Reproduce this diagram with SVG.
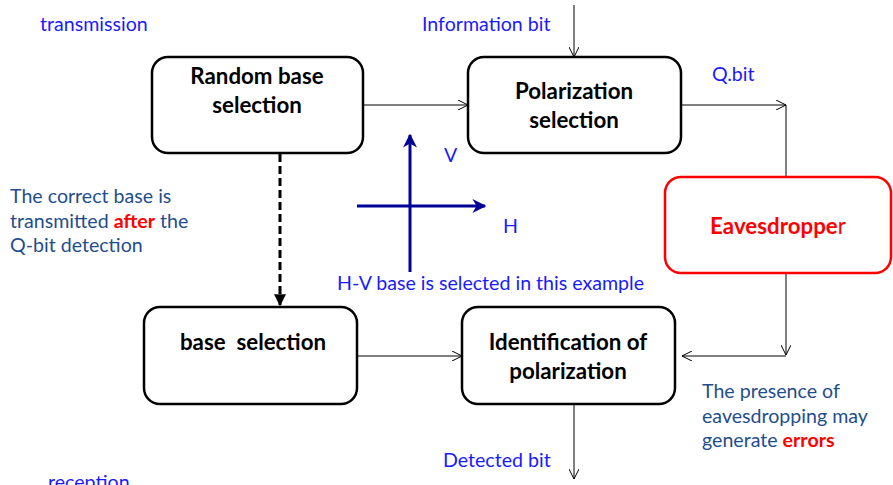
<svg xmlns="http://www.w3.org/2000/svg" width="893" height="485" viewBox="0 0 893 485">
  <style>
    .box { fill: #ffffff; stroke: #000000; stroke-width: 2.5; }
    .evil { fill: #ffffff; stroke: #ff0000; stroke-width: 2.5; }
    .title { font-family: Lato, "Liberation Sans", sans-serif; font-weight: bold; font-size: 22.3px; fill: #000000; text-anchor: middle; }
    .lbl { font-family: Lato, "Liberation Sans", sans-serif; font-size: 19.6px; fill: #1a1aff; }
    .note { font-family: Lato, "Liberation Sans", sans-serif; font-size: 19.6px; fill: #1f4e8c; }
    .hot { fill: #ff0000; font-weight: bold; }
    .wire { fill: none; stroke: #000000; stroke-width: 1; }
    .axis { fill: none; stroke: #000099; stroke-width: 3; }
  </style>
  <defs>
    <marker id="open" viewBox="0 0 10 10" refX="10" refY="5" markerWidth="10" markerHeight="10" markerUnits="userSpaceOnUse" orient="auto">
      <path d="M0,0 L10,5 L0,10" fill="none" stroke="#000000" stroke-width="1"/>
    </marker>
    <marker id="solid" viewBox="0 0 10 10" refX="9" refY="5" markerWidth="12" markerHeight="12" markerUnits="userSpaceOnUse" orient="auto">
      <path d="M0,0 L10,5 L0,10 Z" fill="#000000"/>
    </marker>
    <marker id="blue" viewBox="0 0 10 10" refX="9" refY="5" markerWidth="14" markerHeight="14" markerUnits="userSpaceOnUse" orient="auto">
      <path d="M0,0 L10,5 L0,10 L3,5 Z" fill="#000099"/>
    </marker>
  </defs>

  <!-- side labels -->
  <text class="lbl" x="40" y="31">transmission</text>
  <text class="lbl" x="48" y="489">reception</text>

  <!-- connectors -->
  <g id="connectors">
    <line class="wire" x1="574" y1="5" x2="574" y2="57" marker-end="url(#open)"/>
    <line class="wire" x1="363" y1="105" x2="468" y2="105" marker-end="url(#open)"/>
    <line class="wire" x1="681" y1="105" x2="786" y2="105" marker-end="url(#open)"/>
    <line class="wire" x1="786" y1="105" x2="786" y2="177"/>
    <line class="wire" x1="786" y1="273" x2="786" y2="355" marker-end="url(#open)"/>
    <line class="wire" x1="786" y1="356" x2="682" y2="356" marker-end="url(#open)"/>
    <line class="wire" x1="357" y1="356" x2="462" y2="356" marker-end="url(#open)"/>
    <line class="wire" x1="574" y1="404" x2="574" y2="479" marker-end="url(#open)"/>
    <line x1="280" y1="154" x2="280" y2="305" stroke="#000000" stroke-width="3" stroke-dasharray="8,4" marker-end="url(#solid)"/>
  </g>

  <g id="random-base">
    <rect class="box" x="152" y="57" width="211" height="96" rx="16"/>
    <text class="title" x="257" y="84">Random base</text>
    <text class="title" x="257" y="113">selection</text>
  </g>

  <g id="polarization-selection">
    <rect class="box" x="468" y="57" width="213" height="96" rx="16"/>
    <text class="title" x="574" y="99">Polarization</text>
    <text class="title" x="574" y="128">selection</text>
  </g>

  <g id="eavesdropper">
    <rect class="evil" x="665" y="177" width="226" height="96" rx="16"/>
    <text class="title" x="778" y="234" style="fill:#ff0000">Eavesdroppe<tspan font-weight="normal">r</tspan></text>
  </g>

  <g id="base-selection">
    <rect class="box" x="144" y="307" width="213" height="97" rx="16"/>
    <text class="title" x="253" y="350" xml:space="preserve">base  selection</text>
  </g>

  <g id="identification">
    <rect class="box" x="462" y="307" width="213" height="97" rx="16"/>
    <text class="title" x="568" y="350">Identification of</text>
    <text class="title" x="568" y="379">polarization</text>
  </g>

  <!-- H-V axes -->
  <g id="axes">
    <line class="axis" x1="410" y1="272" x2="410" y2="135" marker-end="url(#blue)"/>
    <line class="axis" x1="357" y1="206" x2="485" y2="206" marker-end="url(#blue)"/>
    <text class="lbl" x="444" y="162">V</text>
    <text class="lbl" x="503" y="233">H</text>
    <text class="lbl" x="337" y="290">H-V base is selected in this example</text>
  </g>

  <!-- edge labels -->
  <text class="lbl" x="422" y="31">Information bit</text>
  <text class="lbl" x="712" y="81">Q.bit</text>
  <text class="lbl" x="443" y="467">Detected bit</text>

  <!-- notes -->
  <g id="note-base">
    <text class="note" x="10" y="203">The correct base is</text>
    <text class="note" x="10" y="228">transmitted <tspan class="hot">after</tspan> the</text>
    <text class="note" x="10" y="252">Q-bit detection</text>
  </g>
  <g id="note-errors">
    <text class="note" x="702" y="398">The presence of</text>
    <text class="note" x="702" y="423">eavesdropping may</text>
    <text class="note" x="702" y="447">generate <tspan class="hot">errors</tspan></text>
  </g>
</svg>
